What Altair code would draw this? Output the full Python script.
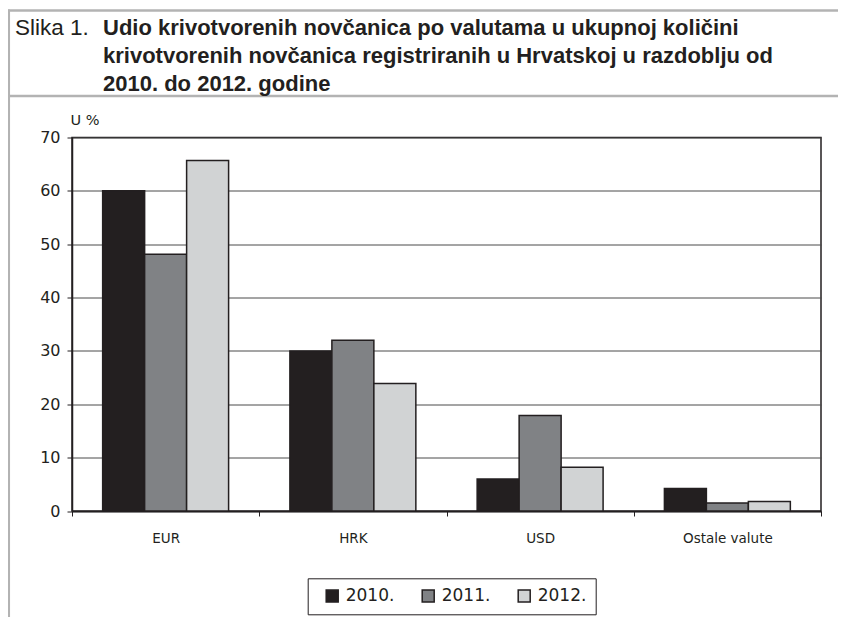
import altair as alt
import pandas as pd

categories = ["EUR", "HRK", "USD", "Ostale valute"]
years = ["2010.", "2011.", "2012."]
v2010 = [60.0, 30.0, 6.0, 4.2]
v2011 = [48.1, 32.0, 17.9, 1.5]
v2012 = [65.7, 23.9, 8.2, 1.8]
colors = ["#231f20", "#808285", "#d1d3d4"]

title_prefix = "Slika 1."
title_lines = [
    "Udio krivotvorenih novčanica po valutama u ukupnoj količini",
    "krivotvorenih novčanica registriranih u Hrvatskoj u razdoblju od",
    "2010. do 2012. godine",
]

rows = []
for yr, vals in zip(years, [v2010, v2011, v2012]):
    for c, v in zip(categories, vals):
        rows.append({"valuta": c, "godina": yr, "udio": v})
df = pd.DataFrame(rows)

FONT = "Liberation Sans"
LFONT = "DejaVu Sans"
DARK = "#231f20"
BORDER = "#b3b3b3"

bars = alt.Chart(df).mark_bar(stroke=DARK, strokeWidth=1.5).encode(
    x=alt.X("valuta:N", sort=categories, title=None,
            scale=alt.Scale(paddingInner=0, paddingOuter=0),
            axis=alt.Axis(tickBand="extent", labelAngle=0, labelFontSize=13.5,
                          labelFont=LFONT, labelColor=DARK, labelPadding=15,
                          tickSize=5, tickColor=DARK, domainColor=DARK,
                          domainWidth=1.5, grid=False)),
    xOffset=alt.XOffset("godina:N", sort=years,
                        scale=alt.Scale(paddingInner=0, paddingOuter=0.73)),
    y=alt.Y("udio:Q", title="U %",
            scale=alt.Scale(domain=[0, 70], nice=False),
            axis=alt.Axis(values=[0, 10, 20, 30, 40, 50, 60, 70],
                          labelFontSize=16, labelFont=LFONT, labelColor=DARK,
                          labelPadding=7, tickSize=5, tickColor=DARK,
                          domainColor=DARK, domainWidth=1.5,
                          gridColor="#4a4a4a", gridWidth=1,
                          titleAngle=0, titleAlign="left", titleBaseline="middle",
                          titleX=-2, titleY=-17, titleFontSize=14.5,
                          titleFontWeight="normal", titleFont=LFONT,
                          titleColor=DARK)),
    color=alt.Color("godina:N", sort=years,
                    scale=alt.Scale(domain=years, range=colors),
                    legend=alt.Legend(title=None, orient="none",
                                      legendX=235.7, legendY=440.8,
                                      direction="horizontal",
                                      strokeColor=DARK, padding=9,
                                      symbolOffset=7, columnPadding=18,
                                      labelFontSize=17, labelFont=LFONT,
                                      labelColor=DARK, labelOffset=5,
                                      symbolType="square", symbolSize=144,
                                      symbolStrokeColor=DARK,
                                      symbolStrokeWidth=1.5,
                                      symbolOpacity=1)),
)

one = alt.Data(values=[{"k": 1}])

def rule(x, x2, y, y2):
    return alt.Chart(one).mark_rule(color=BORDER, strokeWidth=2.5).encode(
        x=alt.value(x), x2=alt.value(x2), y=alt.value(y), y2=alt.value(y2))

border_top = rule(-64, 766, -127, -127)
border_sep = rule(-64, 766, -41.5, -41.5)
border_left = rule(-63.2, -63.2, -128, 479.5)

prefix = alt.Chart(one).mark_text(align="left", baseline="alphabetic",
                                  fontSize=22.5, font=FONT, color=DARK).encode(
    x=alt.value(-57), y=alt.value(-102.5), text=alt.value(title_prefix))

title_layers = []
for i, line in enumerate(title_lines):
    title_layers.append(
        alt.Chart(one).mark_text(align="left", baseline="alphabetic",
                                 fontSize=22, font=FONT, fontWeight="bold",
                                 color=DARK).encode(
            x=alt.value(31), y=alt.value(-102.5 + 28 * i),
            text=alt.value(line)))

chart = alt.layer(bars, border_top, border_sep, border_left, prefix,
                  *title_layers).properties(
    width=749, height=373.5,
    autosize=alt.AutoSizeParams(type="none"),
    padding={"left": 64, "top": 129.5, "right": 17, "bottom": 106},
).configure_view(stroke=DARK, strokeWidth=1.5)

chart.save("out.html", embed_options={"renderer": "svg", "actions": False})
